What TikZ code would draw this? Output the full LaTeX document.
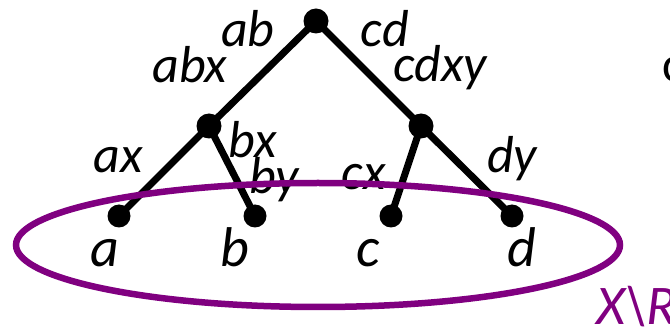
\documentclass[tikz,border=0pt]{standalone}
\usepackage{fontspec}
\setmainfont{Carlito}
\usepackage{tikz}
\definecolor{setpurple}{RGB}{128,0,128}

\begin{document}
\begin{tikzpicture}[
  x=1pt, y=-1pt,
  dot/.style={circle, fill=black, inner sep=0pt, minimum size=25pt},
  leafdot/.style={circle, fill=black, inner sep=0pt, minimum size=23pt},
  edge/.style={line width=7pt},
  lbl/.style={font=\fontsize{52}{52}\selectfont\itshape, anchor=base, inner sep=0pt},
  leaflbl/.style={font=\fontsize{56}{56}\selectfont\itshape, anchor=base, inner sep=0pt},
  ring/.style={draw=setpurple, line width=6.5pt}
]
\useasboundingbox (0,0) rectangle (670,331);
% tree nodes
\node[dot] (root) at (316,21) {};
\node[dot] (ab) at (209,126) {};
\node[dot] (cd) at (421,126) {};
\node[leafdot] (a) at (119,216) {};
\node[leafdot] (b) at (255,216) {};
\node[leafdot] (c) at (391,216) {};
\node[leafdot] (d) at (512,216) {};
% edges
\draw[edge] (root.center) -- (ab.center);
\draw[edge] (root.center) -- (cd.center);
\draw[edge] (ab.center) -- (a.center);
\draw[edge] (ab.center) -- (b.center);
\draw[edge] (cd.center) -- (c.center);
\draw[edge] (cd.center) -- (d.center);
% edge labels
\node[lbl] (l-ab) at (248,47) {ab};
\node[lbl] (l-cd) at (385,47) {cd};
\node[lbl] (l-abx) at (190,83) {abx};
\node[lbl] (l-cdxy) at (440,82) {cdxy};
\node[lbl] (l-ax) at (118,173) {ax};
\node[lbl] (l-bx) at (253,158) {bx};
\node[lbl] (l-by) at (274,194) {by};
\node[lbl] (l-cx) at (364,190) {cx};
\node[lbl] (l-dy) at (512,173) {dy};
% leaf labels
\node[leaflbl] (n-a) at (105,267) {a};
\node[leaflbl] (n-b) at (235,267) {b};
\node[leaflbl] (n-c) at (368,267) {c};
\node[leaflbl] (n-d) at (522,267) {d};
% the set X\R
\draw[ring] (318,245) ellipse (302pt and 62pt);
\node[leaflbl, anchor=base west, text=setpurple] (xr) at (596,325) {X\textbackslash R};
\node[leaflbl, anchor=base west, font=\fontsize{50}{50}\selectfont] (cut) at (662,82) {c};
\end{tikzpicture}
\end{document}
